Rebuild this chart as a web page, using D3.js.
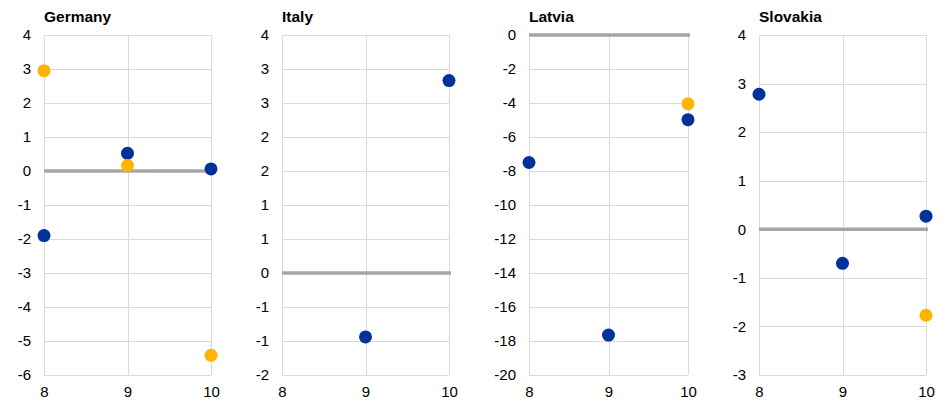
<!DOCTYPE html>
<html>
<head>
<meta charset="utf-8">
<script src="https://cdn.jsdelivr.net/npm/d3@7"></script>
<style>
  html, body { margin: 0; padding: 0; background: #fff; }
  svg { display: block; font-family: "Liberation Sans", Arial, sans-serif; }
</style>
</head>
<body>
<svg id="chart" width="947" height="408"></svg>
<script>
// ---- Data ----
const categories = [8, 9, 10];
const countries = ["Germany", "Italy", "Latvia", "Slovakia"];

const germanyBlue   = [-1.9, 0.52, 0.06];
const germanyYellow = [2.95, 0.16, -5.42];
const italyBlue     = [null, -0.94, 2.83];
const italyYellow   = [null, null, null];
const latviaBlue    = [-7.5, -17.65, -4.98];
const latviaYellow  = [null, null, -4.05];
const slovakiaBlue  = [2.78, -0.7, 0.27];
const slovakiaYellow= [null, null, -1.77];

const germanyTicks  = [-6, -5, -4, -3, -2, -1, 0, 1, 2, 3, 4];
const italyTicks    = [-1.5, -1, -0.5, 0, 0.5, 1, 1.5, 2, 2.5, 3, 3.5];
const latviaTicks   = [-20, -18, -16, -14, -12, -10, -8, -6, -4, -2, 0];
const slovakiaTicks = [-3, -2, -1, 0, 1, 2, 3, 4];

// ---- Layout ----
const panels = [
  { name: countries[0], blue: germanyBlue,  yellow: germanyYellow,  ticks: germanyTicks,  x0: 44,  x1: 211 },
  { name: countries[1], blue: italyBlue,    yellow: italyYellow,    ticks: italyTicks,    x0: 282, x1: 449 },
  { name: countries[2], blue: latviaBlue,   yellow: latviaYellow,   ticks: latviaTicks,   x0: 529, x1: 688 },
  { name: countries[3], blue: slovakiaBlue, yellow: slovakiaYellow, ticks: slovakiaTicks, x0: 759, x1: 926 }
];
const yTop = 35, yBottom = 375;
const BLUE = "#003299", YELLOW = "#FFB400";
const fmt = v => v.toFixed(0);

const svg = d3.select("#chart");

panels.forEach(p => {
  const g = svg.append("g");
  const x = d3.scaleLinear().domain([8, 10]).range([p.x0, p.x1]);
  const y = d3.scaleLinear().domain(d3.extent(p.ticks)).range([yBottom, yTop]);

  // horizontal gridlines
  g.append("g").selectAll("line").data(p.ticks).join("line")
    .attr("x1", p.x0).attr("x2", p.x1)
    .attr("y1", d => Math.round(y(d)) + 0.5).attr("y2", d => Math.round(y(d)) + 0.5)
    .attr("stroke", "#d9d9d9").attr("stroke-width", 1);

  // vertical gridlines
  g.append("g").selectAll("line").data(categories).join("line")
    .attr("x1", d => Math.round(x(d)) + 0.5).attr("x2", d => Math.round(x(d)) + 0.5)
    .attr("y1", yTop).attr("y2", yBottom)
    .attr("stroke", "#d9d9d9").attr("stroke-width", 1);

  // y axis labels
  const yAxis = d3.axisLeft(y).tickValues(p.ticks).tickFormat(fmt).tickSize(0).tickPadding(13);
  const ya = g.append("g").attr("transform", `translate(${p.x0},0)`).call(yAxis);
  ya.select(".domain").remove();
  ya.selectAll("text").attr("font-size", 15).attr("fill", "#000")
    .attr("font-family", "Liberation Sans, Arial, sans-serif");

  // x axis labels
  const xAxis = d3.axisBottom(x).tickValues(categories).tickFormat(d => String(d)).tickSize(0).tickPadding(11);
  const xa = g.append("g").attr("transform", `translate(0,${yBottom})`).call(xAxis);
  xa.select(".domain").remove();
  xa.selectAll("text").attr("font-size", 15).attr("fill", "#000")
    .attr("font-family", "Liberation Sans, Arial, sans-serif");

  // zero line
  g.append("line")
    .attr("x1", p.x0).attr("x2", p.x1 + 2)
    .attr("y1", y(0)).attr("y2", y(0))
    .attr("stroke", "#a6a6a6").attr("stroke-width", 3.5);

  // title
  g.append("text").attr("x", p.x0).attr("y", 22)
    .attr("font-size", 15.5).attr("font-weight", "bold").attr("fill", "#000")
    .text(p.name);

  // points
  const blueData = categories.map((c, i) => ({ c, v: p.blue[i] })).filter(d => d.v != null);
  const yellowData = categories.map((c, i) => ({ c, v: p.yellow[i] })).filter(d => d.v != null);

  g.append("g").selectAll("circle").data(blueData).join("circle")
    .attr("cx", d => x(d.c)).attr("cy", d => y(d.v)).attr("r", 6.5).attr("fill", BLUE);
  g.append("g").selectAll("circle").data(yellowData).join("circle")
    .attr("cx", d => x(d.c)).attr("cy", d => y(d.v)).attr("r", 6.5).attr("fill", YELLOW);
});
</script>
</body>
</html>
